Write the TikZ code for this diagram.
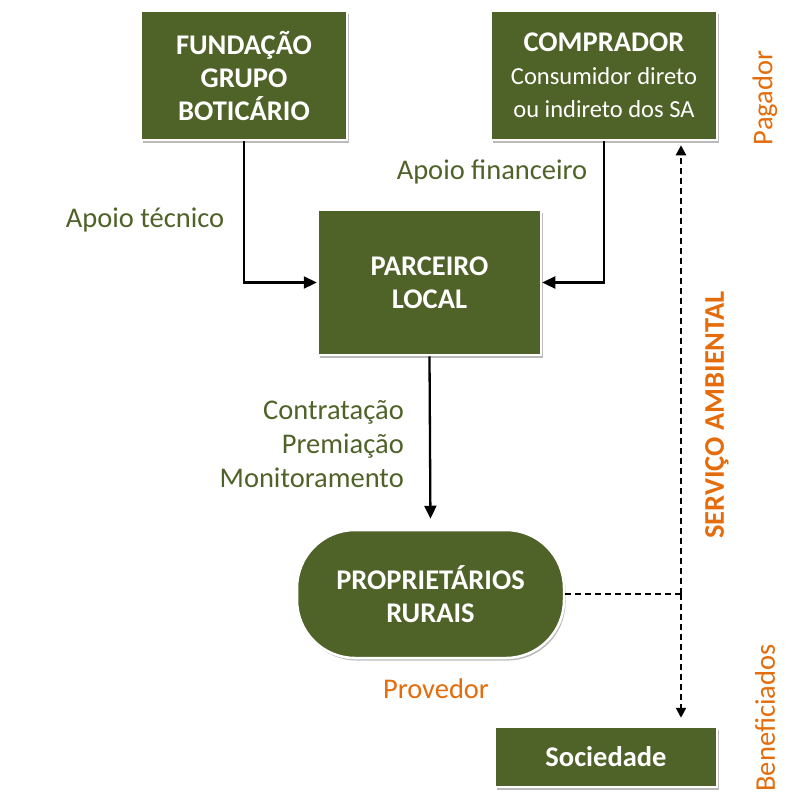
\documentclass[tikz,border=0pt]{standalone}
\usepackage{fontspec}
\setmainfont{Carlito}
\usetikzlibrary{shadows,arrows.meta}
\definecolor{olive}{HTML}{4F6228}
\definecolor{orng}{HTML}{E46C0A}
\begin{document}
\begin{tikzpicture}[x=1pt,y=-1pt,
  box/.style={fill=olive, draw=white, line width=2.5pt, text=white,
    font=\fontsize{28.5}{33}\selectfont\bfseries, align=center, inner sep=0pt,
    drop shadow={shadow xshift=1.5pt, shadow yshift=-2.5pt, opacity=0.45, fill=black!60}},
  lbl/.style={text=olive, font=\fontsize{28.5}{34}\selectfont, inner sep=0pt},
  olbl/.style={text=orng, font=\fontsize{28.5}{34}\selectfont, inner sep=0pt},
  conn/.style={line width=2.3pt, -{Triangle[length=13pt,width=12pt]}},
  dconn/.style={line width=2.2pt, dash pattern=on 6pt off 4pt, -{Triangle[length=10pt,width=10pt]}},
  dline/.style={line width=2.2pt, dash pattern=on 6pt off 4pt}]
\useasboundingbox (0,0) rectangle (798,812);

\node[box, minimum width=206pt, minimum height=129pt] (fund) at (244,75.5)
  {FUNDAÇÃO\\GRUPO\\BOTICÁRIO};
\node[box, minimum width=226pt, minimum height=129pt] (comp) at (604,75.5)
  {COMPRADOR\\{\fontsize{24.5}{30}\selectfont\mdseries Consumidor direto}\\{\fontsize{24.5}{30}\selectfont\mdseries ou indireto dos SA}};
\node[box, minimum width=223pt, minimum height=145pt] (parc) at (429.5,282.5)
  {PARCEIRO\\LOCAL};
\node[box, rounded corners=58pt, minimum width=267pt, minimum height=128pt] (prop) at (430.5,594)
  {PROPRIETÁRIOS\\RURAIS};
\node[box, minimum width=222pt, minimum height=60pt] (soc) at (606,757)
  {Sociedade};

\draw[conn] (fund.south) |- (parc.west);
\draw[conn] (comp.south) |- (parc.east);
\draw[conn, shorten >=10pt] (parc.south) -- (prop.north);

\coordinate (j) at (681,594);
\draw[dline] (prop.east) -- (j);
\draw[dconn, shorten >=4pt] (j) -- (j |- comp.south);
\draw[dconn, shorten >=8pt] (j) -- (j |- soc.north);

\node[lbl] (at) at (145,220) {Apoio técnico};
\node[lbl] (af) at (492,172) {Apoio financeiro};
\node[lbl, anchor=east, align=right] (acts) at (404,444)
  {Contratação\\Premiação\\Monitoramento};
\node[olbl] (prov) at (436,689) {Provedor};
\node[olbl, rotate=90] (pag) at (765,98) {Pagador};
\node[olbl, rotate=90] (ben) at (765,718) {Beneficiados};
\node[olbl, rotate=90, font=\fontsize{28.5}{34}\selectfont\bfseries] (serv) at (717,415) {SERVIÇO AMBIENTAL};
\end{tikzpicture}
\end{document}
